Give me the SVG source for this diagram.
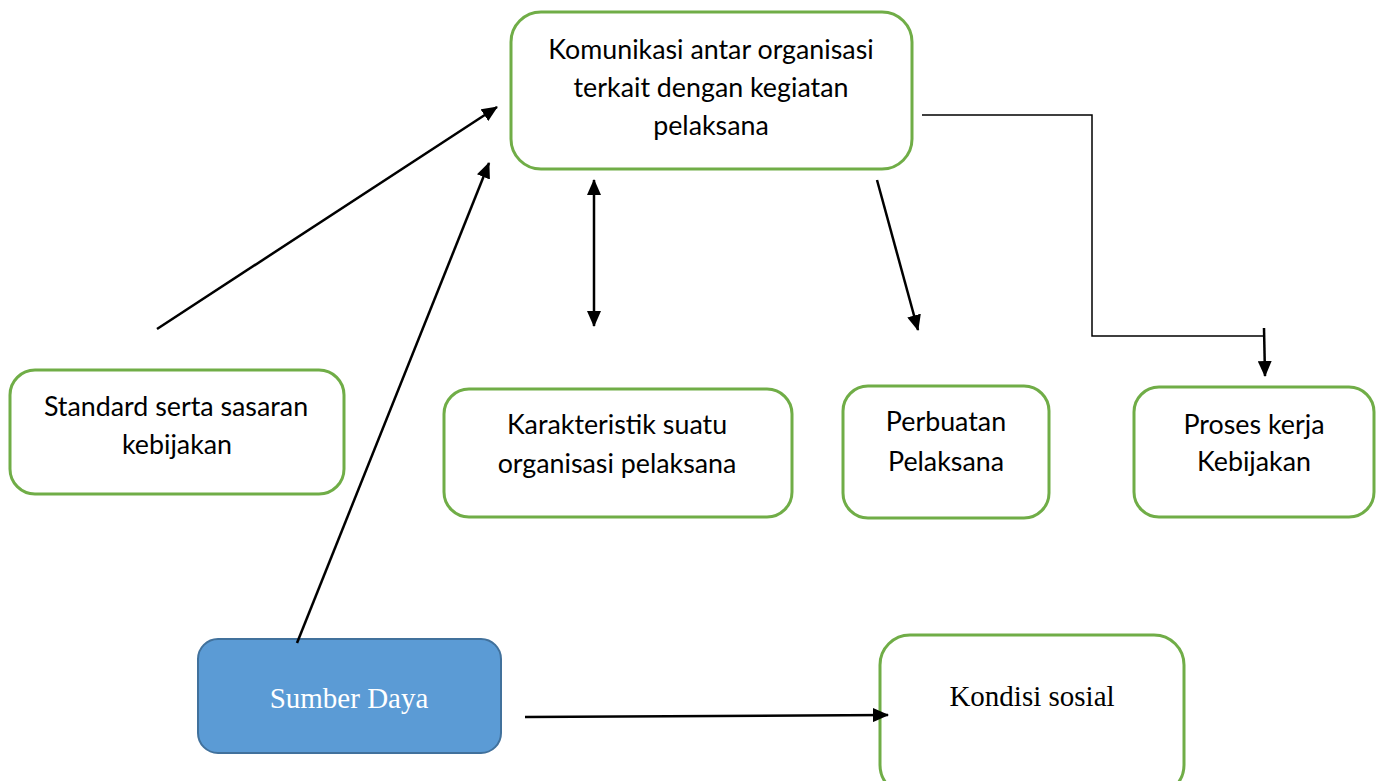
<svg xmlns="http://www.w3.org/2000/svg" width="1378" height="781" viewBox="0 0 1378 781">
<style>
.box{fill:#fff;stroke:#70AD47;stroke-width:3}
.t{font-family:Lato,"Open Sans",sans-serif;font-size:26.8px;fill:#000;text-anchor:middle}
.s{font-family:"Liberation Serif",serif;font-size:29px;text-anchor:middle}
.c{stroke:#000;stroke-width:2.5;fill:none}
.thin{stroke:#000;stroke-width:1.5;fill:none}
</style>
<defs>
<marker id="ah" markerWidth="16" markerHeight="14" refX="15" refY="7" orient="auto-start-reverse" markerUnits="userSpaceOnUse">
<path d="M0,0 L16,7 L0,14 Z" fill="#000"/>
</marker>
</defs>
<rect width="1378" height="781" fill="#fff"/>
<g id="n-komunikasi">
<rect class="box" x="511" y="12" width="401" height="157" rx="30"/>
<text class="t" x="711" y="59">Komunikasi antar organisasi</text>
<text class="t" x="711" y="97">terkait dengan kegiatan</text>
<text class="t" x="711" y="135">pelaksana</text>
</g>
<g id="n-standard">
<rect class="box" x="10" y="370" width="334" height="124" rx="25"/>
<text class="t" x="176" y="416">Standard serta sasaran</text>
<text class="t" x="177" y="454">kebijakan</text>
</g>
<g id="n-karakteristik">
<rect class="box" x="444" y="389" width="348" height="128" rx="25"/>
<text class="t" x="617" y="434">Karakteristik suatu</text>
<text class="t" x="617" y="473">organisasi pelaksana</text>
</g>
<g id="n-perbuatan">
<rect class="box" x="843" y="386" width="206" height="132" rx="25"/>
<text class="t" x="946" y="431">Perbuatan</text>
<text class="t" x="946" y="471">Pelaksana</text>
</g>
<g id="n-proses">
<rect class="box" x="1134" y="387" width="240" height="130" rx="25"/>
<text class="t" x="1254" y="434">Proses kerja</text>
<text class="t" x="1254" y="471">Kebijakan</text>
</g>
<g id="n-sumber">
<rect x="198" y="639" width="303" height="114" rx="20" fill="#5B9BD5" stroke="#41719C" stroke-width="2"/>
<text class="s" x="349" y="708" fill="#fff">Sumber Daya</text>
</g>
<g id="n-kondisi">
<rect class="box" x="880" y="635" width="304" height="160" rx="30"/>
<text class="s" x="1032" y="706" fill="#000">Kondisi sosial</text>
</g>
<g id="connectors">
<line class="c" x1="157" y1="329" x2="497" y2="107" marker-end="url(#ah)"/>
<line class="c" x1="297" y1="643" x2="489" y2="163" marker-end="url(#ah)"/>
<line class="c" x1="594" y1="180" x2="594" y2="326" marker-start="url(#ah)" marker-end="url(#ah)"/>
<line class="c" x1="877" y1="180" x2="918" y2="330" marker-end="url(#ah)"/>
<polyline class="thin" points="922,115 1092,115 1092,336 1264,336"/>
<line class="c" x1="1264" y1="328" x2="1265" y2="376" marker-end="url(#ah)"/>
<line class="c" x1="525" y1="717" x2="888" y2="715" marker-end="url(#ah)"/>
</g>
</svg>
